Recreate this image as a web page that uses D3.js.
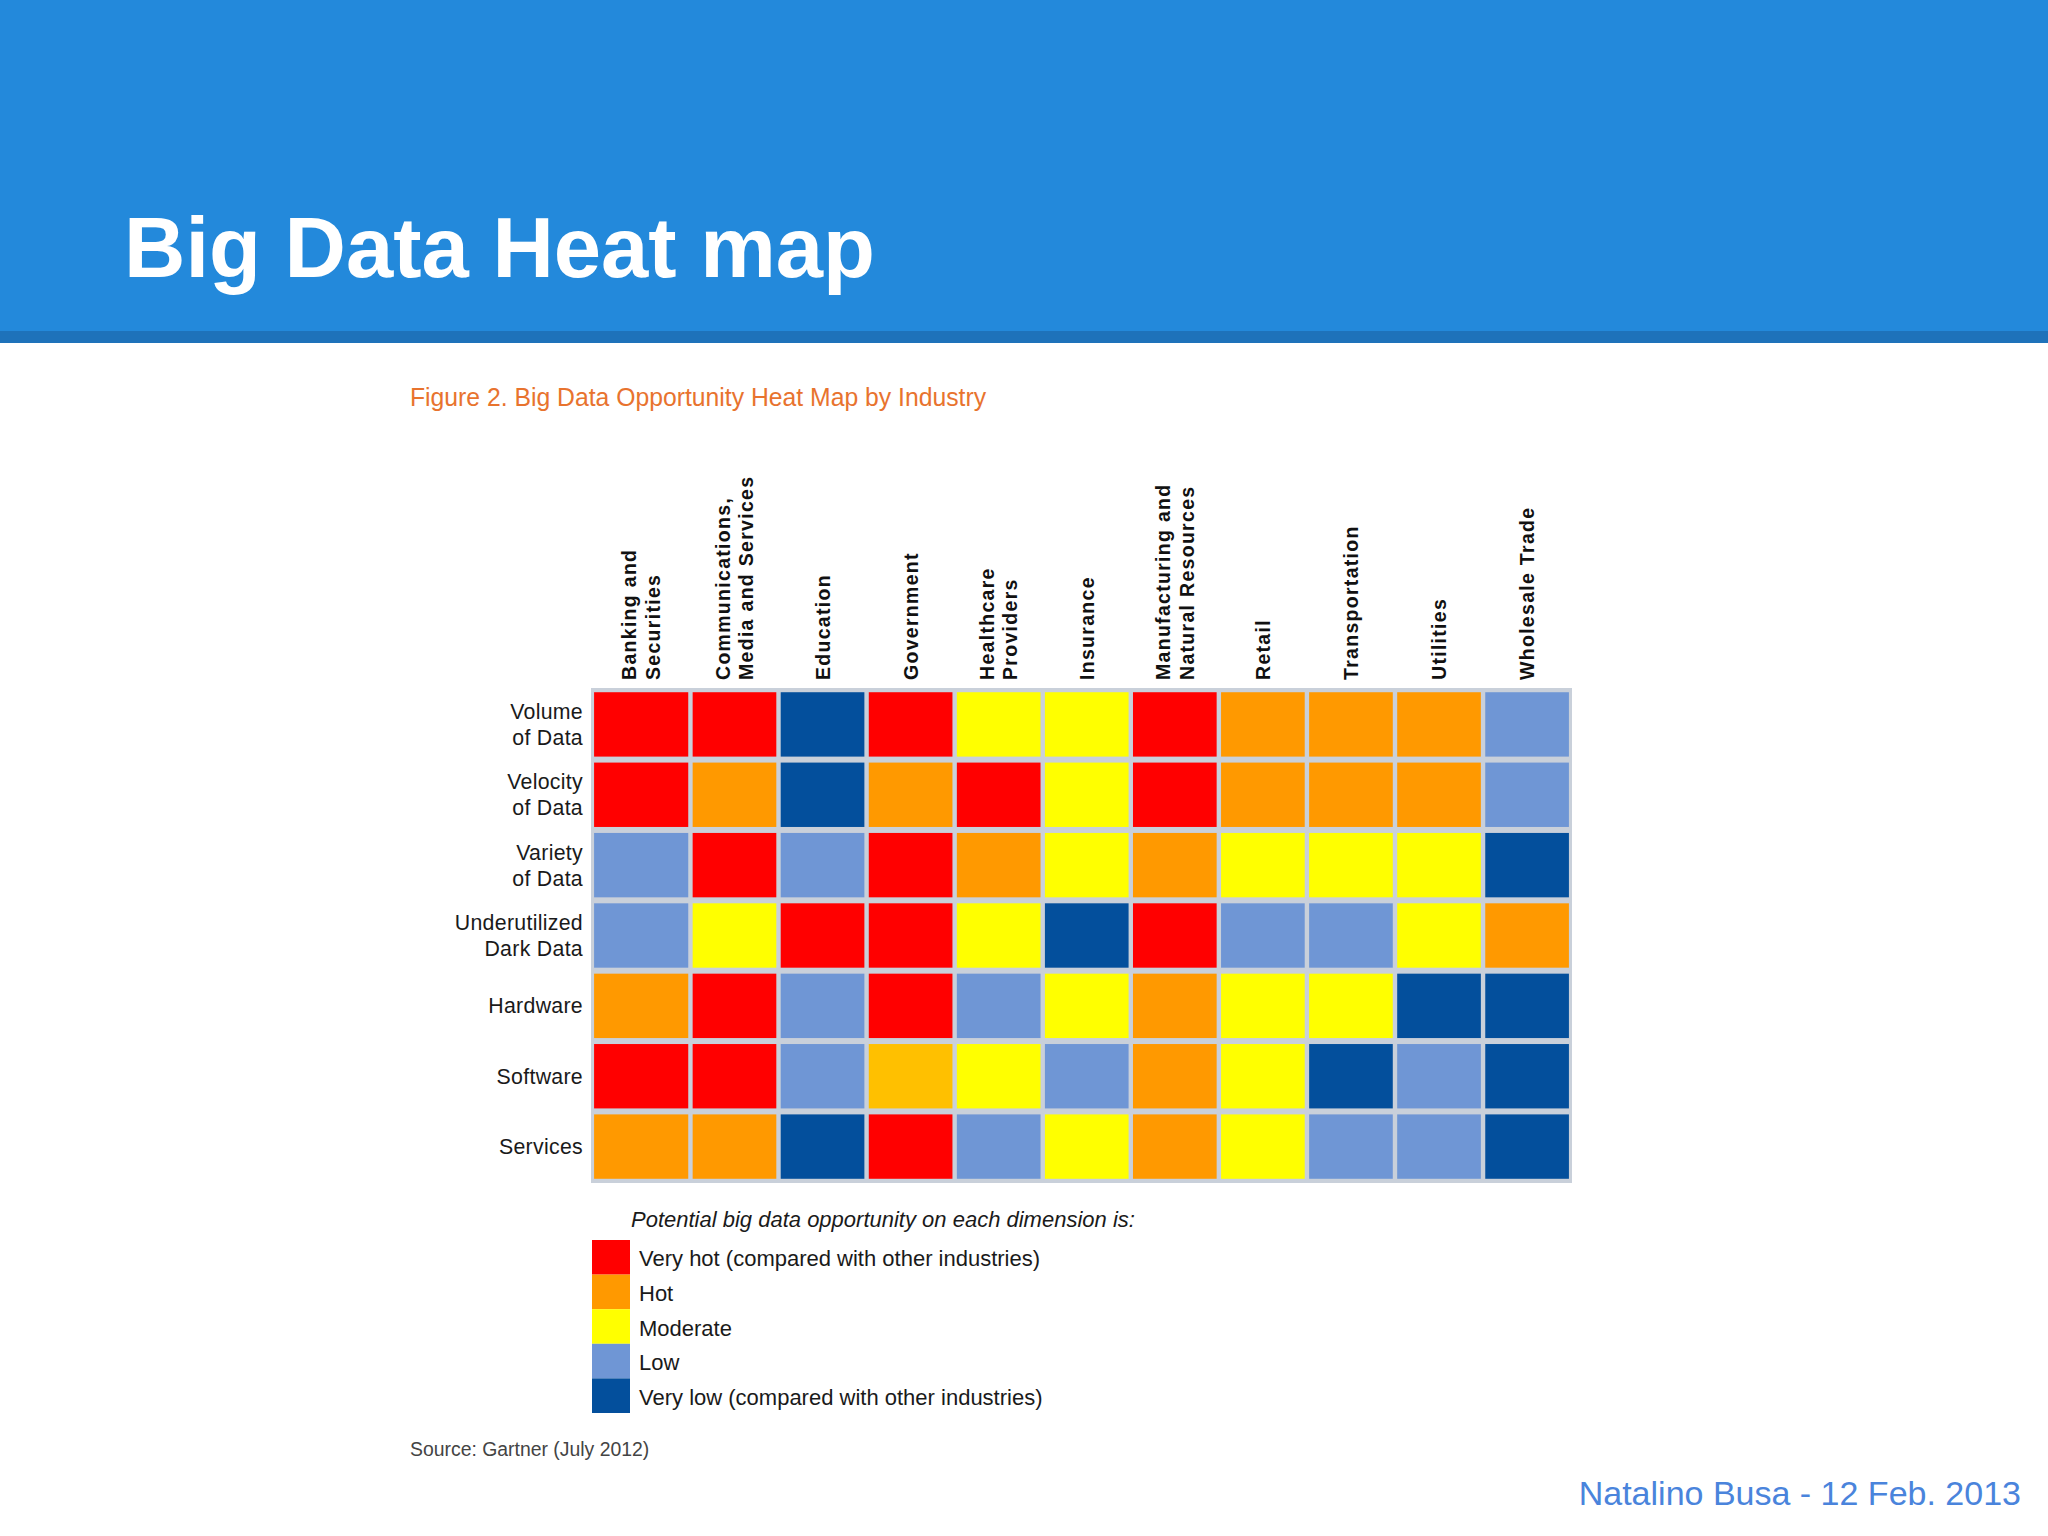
<!DOCTYPE html>
<html>
<head>
<meta charset="utf-8">
<script src="https://cdn.jsdelivr.net/npm/d3@7"></script>
<style>
  html, body { margin: 0; padding: 0; background: #ffffff; }
  svg { display: block; }
  text { font-family: "Liberation Sans", Arial, sans-serif; }
</style>
</head>
<body>
<svg id="chart" width="2048" height="1536"></svg>
<script>
// ---------- DATA ----------
const industries = [
  ["Banking and", "Securities"],
  ["Communications,", "Media and Services"],
  ["Education"],
  ["Government"],
  ["Healthcare", "Providers"],
  ["Insurance"],
  ["Manufacturing and", "Natural Resources"],
  ["Retail"],
  ["Transportation"],
  ["Utilities"],
  ["Wholesale Trade"]
];
const dimensions = [
  ["Volume", "of Data"],
  ["Velocity", "of Data"],
  ["Variety", "of Data"],
  ["Underutilized", "Dark Data"],
  ["Hardware"],
  ["Software"],
  ["Services"]
];
// VH = very hot, H = hot, HM = hot/moderate (amber), M = moderate, L = low, VL = very low
const volumeOfData     = ["VH","VH","VL","VH","M","M","VH","H","H","H","L"];
const velocityOfData   = ["VH","H","VL","H","VH","M","VH","H","H","H","L"];
const varietyOfData    = ["L","VH","L","VH","H","M","H","M","M","M","VL"];
const darkData         = ["L","M","VH","VH","M","VL","VH","L","L","M","H"];
const hardware         = ["H","VH","L","VH","L","M","H","M","M","VL","VL"];
const software         = ["VH","VH","L","HM","M","L","H","M","VL","L","VL"];
const services         = ["H","H","VL","VH","L","M","H","M","L","L","VL"];
const levelCodes  = ["VH","H","HM","M","L","VL"];
const levelColors = ["#ff0000","#ff9900","#ffc000","#ffff00","#6f96d5","#034f9c"];
const legendCodes  = ["VH","H","M","L","VL"];
const legendLabels = [
  "Very hot (compared with other industries)",
  "Hot",
  "Moderate",
  "Low",
  "Very low (compared with other industries)"
];

const matrix = [volumeOfData, velocityOfData, varietyOfData, darkData, hardware, software, services];

// ---------- DRAW ----------
const svg = d3.select("#chart");
const W = 2048, H = 1536;

svg.append("rect").attr("x", 0).attr("y", 0).attr("width", W).attr("height", H).attr("fill", "#ffffff");

// header band
svg.append("rect").attr("x", 0).attr("y", 0).attr("width", W).attr("height", 331).attr("fill", "#2389db");
svg.append("rect").attr("x", 0).attr("y", 331).attr("width", W).attr("height", 12).attr("fill", "#1e72ba");
svg.append("text")
  .attr("x", 124).attr("y", 277)
  .attr("fill", "#ffffff")
  .attr("font-size", 85).attr("font-weight", "bold")
  .text("Big Data Heat map");

// caption
svg.append("text")
  .attr("x", 410).attr("y", 406)
  .attr("fill", "#e8732e")
  .attr("font-size", 25)
  .attr("textLength", 576)
  .attr("lengthAdjust", "spacingAndGlyphs")
  .text("Figure 2. Big Data Opportunity Heat Map by Industry");

// scales
const colKeys = industries.map((d, i) => i);
const rowKeys = dimensions.map((d, i) => i);
const gridL = 591, gridR = 1572, gridT = 688, gridB = 1183;
const firstColExtra = 10.5; // first column in the figure is drawn wider, reaching the left border
const x = d3.scaleBand().domain(colKeys).range([gridL + firstColExtra, gridR]).paddingInner(0.05).paddingOuter(0.035);
const y = d3.scaleBand().domain(rowKeys).range([gridT, gridB]).paddingInner(0.085).paddingOuter(0.06);
const color = d3.scaleOrdinal().domain(levelCodes).range(levelColors);
const cellX = c => c === 0 ? x(0) - firstColExtra : x(c);
const cellW = c => c === 0 ? x.bandwidth() + firstColExtra : x.bandwidth();
const cellCX = c => cellX(c) + cellW(c) / 2;

// grid background (gaps)
svg.append("rect")
  .attr("x", gridL).attr("y", gridT)
  .attr("width", gridR - gridL).attr("height", gridB - gridT)
  .attr("fill", "#c9d0da");

const cells = [];
matrix.forEach((row, r) => row.forEach((v, c) => cells.push({ r, c, v })));
svg.append("g").selectAll("rect").data(cells).join("rect")
  .attr("x", d => cellX(d.c))
  .attr("y", d => y(d.r))
  .attr("width", d => cellW(d.c))
  .attr("height", y.bandwidth())
  .attr("fill", d => color(d.v));

// column labels (rotated)
const colG = svg.append("g").selectAll("g").data(industries).join("g")
  .attr("transform", (d, i) => `translate(${cellCX(i)},680) rotate(-90)`);
colG.each(function (lines) {
  const g = d3.select(this);
  const n = lines.length;
  lines.forEach((t, k) => {
    g.append("text")
      .attr("x", 0)
      .attr("y", 7 + (k - (n - 1) / 2) * 23.5)
      .attr("font-size", 19.5)
      .attr("font-weight", "bold")
      .attr("letter-spacing", 1.3)
      .attr("fill", "#111")
      .text(t);
  });
});

// row labels
const rowG = svg.append("g").selectAll("g").data(dimensions).join("g")
  .attr("transform", (d, i) => `translate(583,${y(i) + y.bandwidth() / 2})`);
rowG.each(function (lines) {
  const g = d3.select(this);
  const n = lines.length;
  lines.forEach((t, k) => {
    g.append("text")
      .attr("x", 0)
      .attr("y", 7.5 + (k - (n - 1) / 2) * 26)
      .attr("text-anchor", "end")
      .attr("font-size", 21.3)
      .attr("letter-spacing", 0.3)
      .attr("fill", "#1a1a1a")
      .text(t);
  });
});

// legend
svg.append("text")
  .attr("x", 631).attr("y", 1227)
  .attr("font-size", 22).attr("font-style", "italic")
  .attr("fill", "#1a1a1a")
  .text("Potential big data opportunity on each dimension is:");

const ly = d3.scaleBand().domain(legendCodes).range([1240, 1413]);
const lg = svg.append("g").selectAll("g").data(legendCodes).join("g");
lg.append("rect")
  .attr("x", 592).attr("y", d => ly(d))
  .attr("width", 38).attr("height", ly.bandwidth())
  .attr("fill", d => color(d));
lg.append("text")
  .attr("x", 639).attr("y", d => ly(d) + ly.bandwidth() / 2 + 9)
  .attr("font-size", 22)
  .attr("fill", "#1a1a1a")
  .text((d, i) => legendLabels[i]);

// source
svg.append("text")
  .attr("x", 410).attr("y", 1456)
  .attr("font-size", 19.4)
  .attr("fill", "#444")
  .text("Source: Gartner (July 2012)");

// footer
svg.append("text")
  .attr("x", 2021).attr("y", 1505)
  .attr("text-anchor", "end")
  .attr("font-size", 34)
  .attr("fill", "#4a84dc")
  .text("Natalino Busa - 12 Feb. 2013");
</script>
</body>
</html>
